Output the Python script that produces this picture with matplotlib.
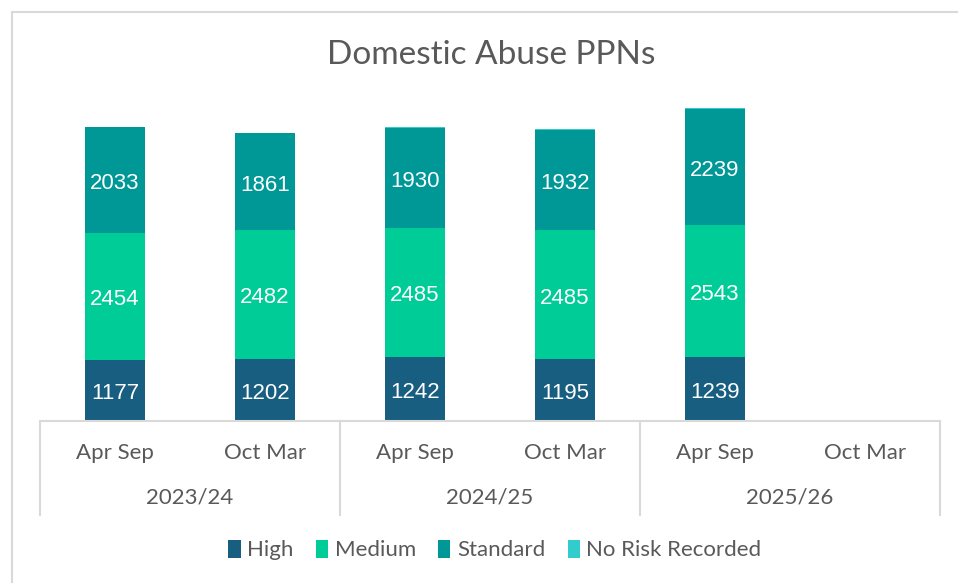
import matplotlib.pyplot as plt
import matplotlib.transforms as mtransforms
from matplotlib.patches import Rectangle
import numpy as np

years = ["2023/24", "2024/25", "2025/26"]
halves = ["Apr Sep", "Oct Mar"]

high = [1177, 1202, 1242, 1195, 1239]
medium = [2454, 2482, 2485, 2485, 2543]
standard = [2033, 1861, 1930, 1932, 2239]
no_risk = [15, 14, 16, 13, 12]

colors = {"High": "#175e80", "Medium": "#00cc98", "Standard": "#009797",
          "No Risk Recorded": "#33cccc"}

W, H = 958, 583
narrow = ["Lato", "DejaVu Sans"]
grey = "#595959"
line_grey = "#d9d9d9"

fig = plt.figure(figsize=(W / 100, H / 100), dpi=100)

# outer chart frame
fig.patches.append(Rectangle((12 / W, -0.1), 1.2, 1 - 12 / H + 0.1,
                             transform=fig.transFigure, fill=False,
                             edgecolor=line_grey, linewidth=1.5))

x0, x1, ybase, ytop = 40, 940, 421, 58
ax = fig.add_axes([x0 / W, 1 - ybase / H, (x1 - x0) / W, (ybase - ytop) / H])
ax.set_facecolor("none")

x = np.arange(len(high))
w = 0.4
bottom = np.zeros(len(high))
for name, vals in [("High", high), ("Medium", medium),
                   ("Standard", standard), ("No Risk Recorded", no_risk)]:
    bars = ax.bar(x, vals, w, bottom=bottom, color=colors[name], label=name)
    if name != "No Risk Recorded":
        labels = ax.bar_label(bars, label_type="center", color="white",
                              fontsize=16,
                              family=["Liberation Sans", "DejaVu Sans"])
        for t in labels:
            t.xyann = (0, -2.5)
    bottom += np.array(vals)

ax.set_xlim(-0.5, 5.5)
ax.set_ylim(0, 7000)
ax.set_xticks([])
ax.set_yticks([])
for s in ["top", "right", "left"]:
    ax.spines[s].set_visible(False)
ax.spines["bottom"].set_color(line_grey)
ax.spines["bottom"].set_linewidth(1.5)

# multi-level category axis
trans = mtransforms.blended_transform_factory(ax.transData, ax.transAxes)
depth = -(515 - ybase) / (ybase - ytop)
for sx in [-0.5, 1.5, 3.5, 5.5]:
    ax.plot([sx, sx], [0, depth], color=line_grey, lw=1.5,
            transform=trans, clip_on=False)
half_y = -(453 - ybase) / (ybase - ytop)
year_y = -(497 - ybase) / (ybase - ytop)
for i, yr in enumerate(years):
    for j, h in enumerate(halves):
        ax.text(2 * i + j, half_y, h, transform=trans, ha="center",
                va="center", fontsize=16, color=grey, family=narrow)
    ax.text(2 * i + 0.5, year_y, yr, transform=trans, ha="center",
            va="center", fontsize=16, color=grey, family=narrow)

fig.text(491 / W, 1 - 55 / H, "Domestic Abuse PPNs", ha="center",
         va="center", fontsize=24, color=grey, family=narrow)

fig.legend(loc="center", bbox_to_anchor=(495 / W, 1 - 550 / H), ncol=4,
           frameon=False, handlelength=0.55, handleheight=0.9,
           handletextpad=0.3, columnspacing=1.0,
           prop={"family": narrow, "size": 16}, labelcolor=grey)

fig.savefig("out.png", dpi=100)
